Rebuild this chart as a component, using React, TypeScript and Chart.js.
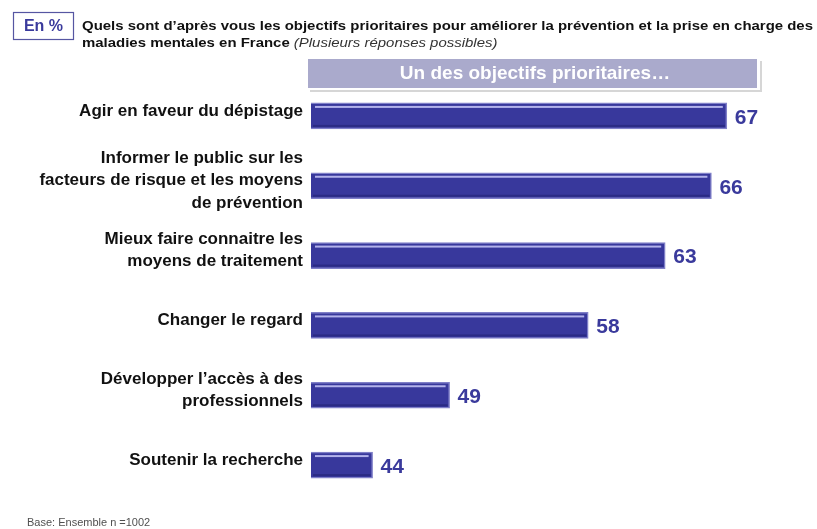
import React, { useEffect, useRef } from "react";
import { Chart, registerables } from "chart.js";

Chart.register(...registerables);

const categories: string[][] = [
  ["Agir en faveur du dépistage"],
  ["Informer le public sur les", "facteurs de risque et les moyens", "de prévention"],
  ["Mieux faire connaitre les", "moyens de traitement"],
  ["Changer le regard"],
  ["Développer l’accès à des", "professionnels"],
  ["Soutenir la recherche"],
];
const values: number[] = [67, 66, 63, 58, 49, 44];

const titleLine1 = "Quels sont d’après vous les objectifs prioritaires pour améliorer la prévention et la prise en charge des";
const titleLine2 = "maladies mentales en France";
const titleItalic = " (Plusieurs réponses possibles)";
const badgeText = "En %";
const headerText = "Un des objectifs prioritaires…";
const footerText = "Base: Ensemble n =1002";

const BLUE = "#3a3a9c";
const FONT = "'Liberation Sans', Arial, sans-serif";

const decorPlugin = {
  id: "decor",
  afterDraw(chart: any) {
    const ctx = chart.ctx as CanvasRenderingContext2D;
    const area = chart.chartArea;
    ctx.save();
    // badge
    ctx.strokeStyle = "#5656a2";
    ctx.lineWidth = 1.2;
    ctx.strokeRect(13.5, 12.5, 60, 27);
    ctx.fillStyle = BLUE;
    ctx.font = `bold 16px ${FONT}`;
    ctx.textAlign = "center";
    ctx.textBaseline = "middle";
    ctx.fillText(badgeText, 43.5, 27);
    // title (scaled horizontally to span like the reference)
    ctx.textAlign = "left";
    ctx.fillStyle = "#111111";
    ctx.font = `bold 13.5px ${FONT}`;
    const w1 = ctx.measureText(titleLine1).width;
    const sx = 731 / w1;
    ctx.save();
    ctx.translate(82, 0);
    ctx.scale(sx, 1);
    ctx.fillText(titleLine1, 0, 26);
    ctx.fillText(titleLine2, 0, 43);
    const w2 = ctx.measureText(titleLine2).width;
    ctx.font = `italic 13.5px ${FONT}`;
    ctx.fillStyle = "#333333";
    ctx.fillText(titleItalic, w2, 43);
    ctx.restore();
    // header box with shadow
    ctx.fillStyle = "rgba(0,0,0,0.16)";
    ctx.fillRect(310, 61, 452, 31);
    ctx.fillStyle = "#ffffff";
    ctx.fillRect(305, 56, 455, 34);
    ctx.fillStyle = "#aaaacc";
    ctx.fillRect(308, 59, 449, 29);
    ctx.fillStyle = "#ffffff";
    ctx.font = `bold 19px ${FONT}`;
    ctx.textAlign = "center";
    ctx.fillText(headerText, 535, 74);
    // footer
    ctx.textAlign = "left";
    ctx.fillStyle = "#505050";
    ctx.font = `11px ${FONT}`;
    ctx.fillText(footerText, 27, 523);
    // value labels and bar highlights
    const meta = chart.getDatasetMeta(0);
    meta.data.forEach((bar: any, i: number) => {
      const top = bar.y - bar.height / 2;
      const left = area.left;
      ctx.fillStyle = "rgba(210,210,255,0.8)";
      ctx.fillRect(left + 4, top + 3, bar.x - left - 8, 2);
      ctx.fillStyle = "rgba(20,20,90,0.35)";
      ctx.fillRect(left + 2, top + bar.height - 4, bar.x - left - 4, 2);
      ctx.fillStyle = BLUE;
      ctx.font = `bold 21px ${FONT}`;
      ctx.textAlign = "left";
      ctx.textBaseline = "middle";
      ctx.fillText(String(values[i]), bar.x + 8, bar.y + 2);
    });
    ctx.restore();
  },
};

export default function App() {
  const ref = useRef<HTMLCanvasElement>(null);
  useEffect(() => {
    document.body.style.margin = "0";
    const chart = new Chart(ref.current!, {
      type: "bar",
      data: {
        labels: categories,
        datasets: [
          {
            data: values,
            backgroundColor: "#38389c",
            borderColor: "#8080c8",
            borderWidth: 1.5,
            barThickness: 26,
            borderSkipped: false,
          },
        ],
      },
      options: {
        indexAxis: "y",
        animation: false,
        responsive: false,
        maintainAspectRatio: false,
        layout: { padding: { top: 81, bottom: 29, right: 44, left: 0 } },
        plugins: { legend: { display: false }, tooltip: { enabled: false } },
        scales: {
          x: { min: 40, max: 70, display: false },
          y: {
            grid: { display: false, drawTicks: false, tickLength: 0 },
            border: { display: false },
            afterFit(scale: any) {
              scale.width = 311;
            },
            ticks: {
              color: "#111111",
              padding: 8,
              labelOffset: -5,
              font: { family: FONT, size: 17, weight: "bold", lineHeight: 1.3 },
            },
          },
        },
      },
      plugins: [decorPlugin],
    });
    return () => chart.destroy();
  }, []);
  return (
    <div style={{ position: "absolute", left: 0, top: 0, width: 817, height: 529 }}>
      <canvas ref={ref} width={817} height={529} />
    </div>
  );
}
